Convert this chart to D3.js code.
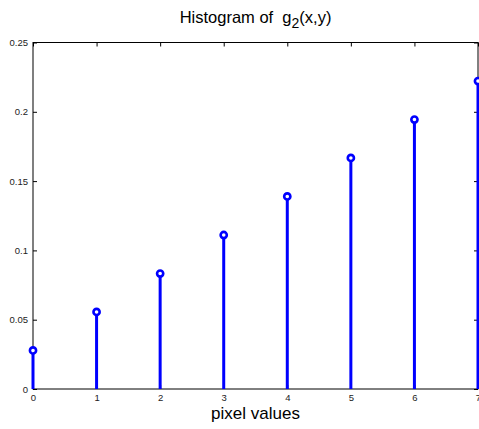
<!DOCTYPE html>
<html>
<head>
<meta charset="utf-8">
<script src="https://cdn.jsdelivr.net/npm/d3@7/dist/d3.min.js"></script>
<style>
  body { margin: 0; background: #fff; }
  text { font-family: "Liberation Sans", Arial, Helvetica, sans-serif; }
</style>
</head>
<body>
<svg id="chart" width="479" height="429"></svg>
<script>
// data
var pixel_values = [0, 1, 2, 3, 4, 5, 6, 7];
var frequencies = [0.0278, 0.0556, 0.0833, 0.1111, 0.1389, 0.1667, 0.1944, 0.2222];
var x_ticks = [0, 1, 2, 3, 4, 5, 6, 7];
var y_ticks = [0, 0.05, 0.1, 0.15, 0.2, 0.25];

var svg = d3.select("#chart"),
    margin = {top: 42.5, right: 1, bottom: 40, left: 33},
    width = +svg.attr("width") - margin.left - margin.right,
    height = +svg.attr("height") - margin.top - margin.bottom;

var x = d3.scaleLinear().domain([0, 7]).range([0, width]),
    y = d3.scaleLinear().domain([0, 0.25]).range([height, 0]);

var g = svg.append("g")
    .attr("transform", "translate(" + margin.left + "," + margin.top + ")");

// box
g.append("rect")
    .attr("width", width).attr("height", height)
    .attr("fill", "none").attr("stroke", "#000").attr("stroke-width", 1);

// ticks (inward, MATLAB style)
function axis_style(sel) {
  sel.select(".domain").remove();
  sel.selectAll(".tick line").attr("stroke", "#000");
  sel.selectAll(".tick text").attr("fill", "#222").style("font-size", "9.5px");
}

g.append("g")
    .attr("transform", "translate(0," + height + ")")
    .call(d3.axisBottom(x).tickValues(x_ticks).tickSize(-4).tickPadding(5).tickFormat(d3.format("d")))
    .call(axis_style);

g.append("g")
    .call(d3.axisTop(x).tickValues(x_ticks).tickSize(-4).tickFormat(""))
    .call(axis_style);

g.append("g")
    .call(d3.axisLeft(y).tickValues(y_ticks).tickSize(-4).tickPadding(5).tickFormat(d3.format("")))
    .call(axis_style);

g.append("g")
    .attr("transform", "translate(" + width + ",0)")
    .call(d3.axisRight(y).tickValues(y_ticks).tickSize(-4).tickFormat(""))
    .call(axis_style);

// stems
g.selectAll(".stem")
    .data(pixel_values)
    .enter().append("line")
      .attr("class", "stem")
      .attr("x1", function(d) { return x(d); })
      .attr("x2", function(d) { return x(d); })
      .attr("y1", y(0))
      .attr("y2", function(d, i) { return y(frequencies[i]); })
      .attr("stroke", "#0000ff")
      .attr("stroke-width", 3);

g.selectAll(".head")
    .data(pixel_values)
    .enter().append("circle")
      .attr("class", "head")
      .attr("cx", function(d) { return x(d); })
      .attr("cy", function(d, i) { return y(frequencies[i]); })
      .attr("r", 3.1)
      .attr("fill", "#fff")
      .attr("stroke", "#0000ff")
      .attr("stroke-width", 2.6);

// title with subscript
var title = svg.append("text")
    .attr("x", margin.left + width / 2)
    .attr("y", 23)
    .attr("text-anchor", "middle")
    .style("font-size", "16.5px")
    .style("white-space", "pre");
title.append("tspan").text("Histogram of  g");
title.append("tspan").attr("dy", 5).style("font-size", "14px").text("2");
title.append("tspan").attr("dy", -5).text("(x,y)");

// x label
svg.append("text")
    .attr("x", margin.left + width / 2)
    .attr("y", 419)
    .attr("text-anchor", "middle")
    .style("font-size", "17px")
    .text("pixel values");
</script>
</body>
</html>
